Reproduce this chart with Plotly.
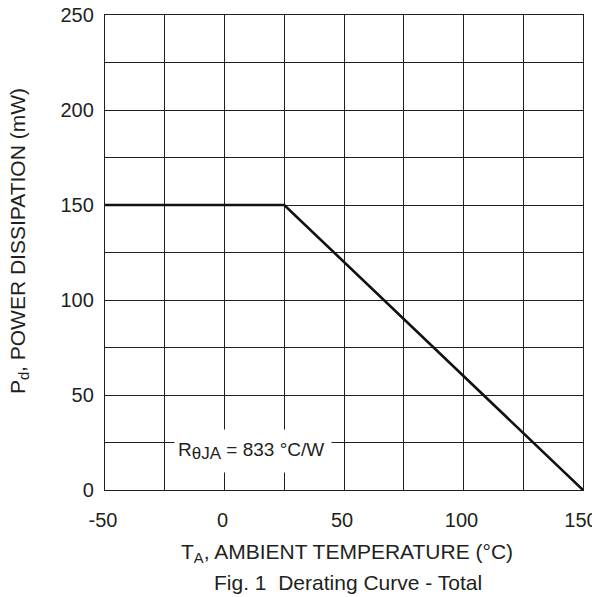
import plotly.graph_objects as go

temp_c = [-50, 25, 150]
power_mw = [150, 150, 0]

x_ticks = [-50, 0, 50, 100, 150]
x_labels = ["-50", "0", "50", "100", "150"]
y_ticks = [0, 50, 100, 150, 200, 250]
y_labels = ["0", "50", "100", "150", "200", "250"]

FONT = "Liberation Sans, Arial, sans-serif"
INK = "#231f20"

fig = go.Figure()
fig.add_trace(go.Scatter(x=temp_c, y=power_mw, mode="lines",
                         line=dict(color="#111111", width=2.6),
                         hoverinfo="skip", showlegend=False))

axis_common = dict(showline=True, mirror=True, linecolor=INK, linewidth=1.4,
                   showgrid=True, gridcolor=INK, gridwidth=1.2,
                   zeroline=False, ticks="", automargin=False,
                   ticklabeloverflow="allow",
                   tickfont=dict(family=FONT, size=20, color=INK),
                   minor=dict(dtick=25, showgrid=True, gridcolor=INK, gridwidth=1.2))

fig.update_xaxes(range=[-50, 150], tickvals=x_ticks, ticktext=x_labels,
                 ticklabelstandoff=12, ticklabelshift=-2, **axis_common)
fig.update_yaxes(range=[0, 250], tickvals=y_ticks, ticktext=y_labels,
                 ticklabelstandoff=6, **axis_common)

fig.add_annotation(x=12, y=20.5, xref="x", yref="y",
                   text="R<sub><span style='font-size:17px'>θJA</span></sub> = 833 °C/W",
                   showarrow=False,
                   font=dict(family=FONT, size=19, color=INK),
                   bgcolor="white", width=150, height=36, borderpad=3, align="left")

fig.add_annotation(x=0.507, y=-0.1326, xref="paper", yref="paper",
                   text="T<sub>A</sub>, AMBIENT TEMPERATURE (°C)", showarrow=False,
                   yanchor="middle",
                   font=dict(family=FONT, size=21, color=INK))
fig.add_annotation(x=0.508, y=-0.194, xref="paper", yref="paper",
                   text="Fig. 1  Derating Curve - Total", showarrow=False,
                   yanchor="middle",
                   font=dict(family=FONT, size=21, color=INK))
fig.add_annotation(x=-0.181, y=0.525, xref="paper", yref="paper",
                   text="P<sub>d</sub>, POWER DISSIPATION (mW)", showarrow=False,
                   textangle=-90, xanchor="center",
                   font=dict(family=FONT, size=21, color=INK))

fig.update_layout(width=592, height=589,
                  margin=dict(l=97, r=17, t=7, b=107),
                  paper_bgcolor="white", plot_bgcolor="white")

fig.write_html("out.html")
